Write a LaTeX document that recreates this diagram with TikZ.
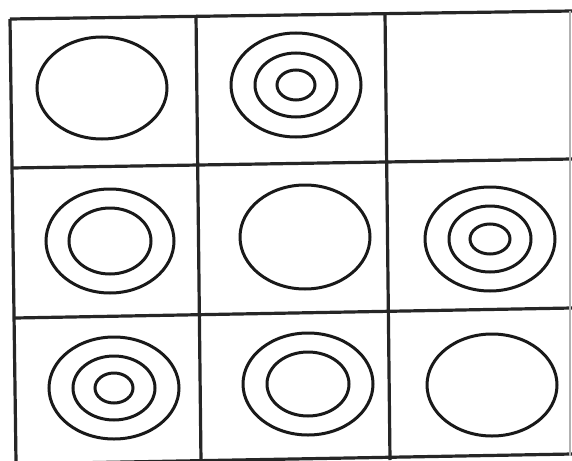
\documentclass[tikz,border=0pt]{standalone}
\begin{document}
\begin{tikzpicture}[x=1pt,y=-1pt,
  gridline/.style={line width=3.2pt,color=black!85},
  ring/.style={line width=3pt,color=black!90},
  faint/.style={line width=1.4pt,color=black!30}]
\useasboundingbox (0,0) rectangle (572,460);
\fill[white] (0,0) rectangle (572,460);
% grid corner coordinates
\coordinate (TL) at (10,19);
\coordinate (TR) at (572,11);
\coordinate (R1L) at (12,168);
\coordinate (R1R) at (572,159);
\coordinate (R2L) at (15,318);
\coordinate (R2R) at (572,308);
\coordinate (BL) at (14,464);
\coordinate (BR) at (572,454);
\coordinate (LB) at (16,462);
\coordinate (C1T) at (196,15);
\coordinate (C1B) at (201,462);
\coordinate (C2T) at (385,13);
\coordinate (C2B) at (390,460);
\coordinate (RT) at (570,11);
\coordinate (RB) at (570,456);
% grid lines
\draw[gridline] (TL) -- (TR);
\draw[gridline] (R1L) -- (R1R);
\draw[gridline] (R2L) -- (R2R);
\draw[gridline] (BL) -- (BR);
\draw[gridline] (TL) -- (LB);
\draw[gridline] (C1T) -- (C1B);
\draw[gridline] (C2T) -- (C2B);
\draw[faint] (RT) -- (RB);
% cell centres
\coordinate (c11) at (102,88);
\coordinate (c12) at (296,85);
\coordinate (c21) at (110,241);
\coordinate (c22) at (305,237);
\coordinate (c23) at (490,239);
\coordinate (c31) at (114,388);
\coordinate (c32) at (308,384);
\coordinate (c33) at (492,385);
% rings
\draw[ring] (c11) ellipse [x radius=65, y radius=51];
\draw[ring] (c12) ellipse [x radius=65, y radius=52];
\draw[ring] (c12) ellipse [x radius=41, y radius=32];
\draw[ring] (c12) ellipse [x radius=19, y radius=15];
\draw[ring] (c21) ellipse [x radius=64, y radius=52];
\draw[ring] (c21) ellipse [x radius=41, y radius=33];
\draw[ring] (c22) ellipse [x radius=65, y radius=52];
\draw[ring] (c23) ellipse [x radius=65, y radius=52];
\draw[ring] (c23) ellipse [x radius=41, y radius=33];
\draw[ring] (c23) ellipse [x radius=20, y radius=15];
\draw[ring] (c31) ellipse [x radius=65, y radius=51];
\draw[ring] (c31) ellipse [x radius=41, y radius=32];
\draw[ring] (c31) ellipse [x radius=19, y radius=15];
\draw[ring] (c32) ellipse [x radius=65, y radius=51];
\draw[ring] (c32) ellipse [x radius=41, y radius=32];
\draw[ring] (c33) ellipse [x radius=65, y radius=51];
\end{tikzpicture}
\end{document}
